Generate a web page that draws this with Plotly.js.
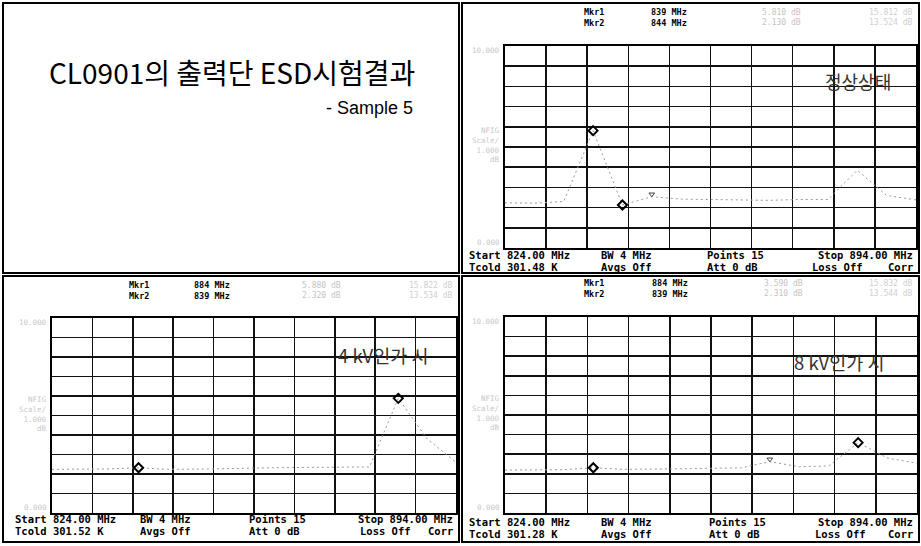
<!DOCTYPE html>
<html>
<head>
<meta charset="utf-8">
<script src="https://cdn.plot.ly/plotly-3.0.1.min.js"></script>
<style>html,body{margin:0;padding:0;background:#fff;}#chart{width:921px;height:546px;}</style>
</head>
<body>
<div id="chart"></div>
<script>
// ---- data (frequency in MHz, noise figure in dB, 1 dB/div) ----
const freqMHz = [824, 829, 834, 839, 844, 849, 854, 859, 864, 869, 874, 879, 884, 889, 894];
const normalNF = [2.24, 2.22, 2.30, 5.81, 2.13, 2.54, 2.42, 2.40, 2.40, 2.36, 2.40, 2.40, 3.85, 2.60, 2.38];
const kv4NF    = [2.24, 2.24, 2.26, 2.32, 2.24, 2.25, 2.26, 2.30, 2.33, 2.34, 2.33, 2.36, 5.88, 3.80, 2.60];
const kv8NF    = [2.19, 2.20, 2.21, 2.31, 2.23, 2.24, 2.25, 2.27, 2.30, 2.62, 2.36, 2.40, 3.59, 2.80, 2.54];
const normalMarkers = [3, 4];   // Mkr1 839 MHz, Mkr2 844 MHz
const kv4Markers = [12, 3];     // Mkr1 884 MHz, Mkr2 839 MHz
const kv8Markers = [12, 3];
const normalExtra = [5];
const kv8Extra = [9];
const titleText = "CL0901의 출력단 ESD시험결과";
const subtitleText = "- Sample 5";
const panelLabels = ["정상상태", "4 kV인가 시", "8 kV인가 시"];
const tcold = ["301.48 K", "301.52 K", "301.28 K"];
const yTop = "10.000", yBottom = "0.000";
const scaleLabels = ["NFIG", "Scale/", "1.000", "dB"];

// ---- helpers ----
const W = 921, H = 546;
const px = x => x / W;
const py = y => 1 - y / H;
const MONO = "DejaVu Sans Mono";
function ann(text, x, y, xanchor, size, color, family, extra) {
  return Object.assign({
    text: text, x: px(x), y: py(y), xref: "paper", yref: "paper",
    showarrow: false, xanchor: xanchor, yanchor: "middle",
    font: { family: family || MONO, size: size, color: color || "#000" }
  }, extra || {});
}

// panels: grid boxes in pixels
const panels = [
  { data: normalNF, mk: normalMarkers, extra: normalExtra, gx0: 505, gx1: 916, gy0: 46, gy1: 248,
    hy: 17, by: 255, mkrX: 582, valX: 649, fX: 760,
    ptX: 705, bwX: 599, lossX: 810, right: 915, left: 467 },
  { data: kv4NF, mk: kv4Markers, extra: [], gx0: 52, gx1: 456, gy0: 318, gy1: 513,
    hy: 290, by: 519, mkrX: 127, valX: 192, fX: 300,
    ptX: 247, bwX: 138, lossX: 358, right: 455, left: 13 },
  { data: kv8NF, mk: kv8Markers, extra: kv8Extra, gx0: 505, gx1: 917, gy0: 317, gy1: 513,
    hy: 288, by: 522, mkrX: 582, valX: 650, fX: 762,
    ptX: 707, bwX: 599, lossX: 813, right: 915, left: 467 }
];

const traces = [];
const layout = {
  width: W, height: H, margin: { l: 0, r: 0, t: 0, b: 0 },
  paper_bgcolor: "#fff", plot_bgcolor: "#fff", showlegend: false,
  annotations: [], shapes: []
};

panels.forEach((p, i) => {
  const n = i === 0 ? "" : String(i + 1);
  const xa = "x" + n, ya = "y" + n;
  const axCommon = {
    showticklabels: false, ticks: "", zeroline: false,
    showgrid: true, gridcolor: "#111", gridwidth: 1.5,
    showline: true, mirror: true, linecolor: "#000", linewidth: 2, fixedrange: true
  };
  layout["xaxis" + n] = Object.assign({}, axCommon, {
    domain: [px(p.gx0), px(p.gx1)], range: [824, 894], tick0: 824, dtick: 7, anchor: ya
  });
  layout["yaxis" + n] = Object.assign({}, axCommon, {
    domain: [py(p.gy1), py(p.gy0)], range: [0, 10], tick0: 0, dtick: 1, anchor: xa
  });
  // dotted trace
  traces.push({
    x: freqMHz, y: p.data, xaxis: xa, yaxis: ya, type: "scatter", mode: "lines",
    line: { color: "#9a9a9a", width: 1, dash: "2px,3px" }, hoverinfo: "skip"
  });
  // markers
  traces.push({
    x: p.mk.map(k => freqMHz[k]), y: p.mk.map(k => p.data[k]), xaxis: xa, yaxis: ya,
    type: "scatter", mode: "markers",
    marker: { symbol: "diamond-open", size: 7, color: "#000", line: { width: 2, color: "#000" } }
  });
  if (p.extra.length) {
    traces.push({
      x: p.extra.map(k => freqMHz[k]), y: p.extra.map(k => p.data[k] + 0.12), xaxis: xa, yaxis: ya,
      type: "scatter", mode: "markers",
      marker: { symbol: "triangle-down-open", size: 5, color: "#444", line: { width: 1, color: "#444" } }
    });
  }
  // header marker text (two lines each)
  const mf = p.mk.map(k => freqMHz[k] + " MHz");
  layout.annotations.push(ann("<b>Mkr1<br>Mkr2</b>", p.mkrX, p.hy, "left", 8.5));
  layout.annotations.push(ann("<b>" + mf[0] + "<br>" + mf[1] + "</b>", p.valX, p.hy, "left", 8.5));
  layout.annotations.push(ann(p.data[p.mk[0]].toFixed(3) + " dB<br>" + p.data[p.mk[1]].toFixed(3) + " dB",
    p.fX, p.hy, "left", 8, "#c4c4c4"));
  layout.annotations.push(ann("15.8" + (i + 1) + "2 dB<br>13.5" + (i + 2) + "4 dB", p.right, p.hy, "right", 8, "#cfcfcf"));
  // faint y scale texts
  layout.annotations.push(ann(yTop, p.gx0 - 3, p.gy0 + 4, "right", 7.5, "#c6c6c6"));
  layout.annotations.push(ann(yBottom, p.gx0 - 3, p.gy1 - 6, "right", 7.5, "#c6c6c6"));
  const midY = p.gy0 + (p.gy1 - p.gy0) * 0.42 + 14;
  layout.annotations.push(ann(scaleLabels.join("<br>"), p.gx0 - 3, midY, "right", 7.5, "#c8c8c8", MONO, { align: "right" }));
  // bottom info rows
  const r1 = p.by, r2 = p.by + 11.5;
  const B = s => "<b>" + s + "</b>";
  layout.annotations.push(ann(B("Start 824.00 MHz"), p.left, r1, "left", 10.5));
  layout.annotations.push(ann(B("BW 4 MHz"), p.bwX, r1, "left", 10.5));
  layout.annotations.push(ann(B("Points " + freqMHz.length), p.ptX, r1, "left", 10.5));
  layout.annotations.push(ann(B("Stop 894.00 MHz"), p.right, r1, "right", 10.5));
  layout.annotations.push(ann(B("Tcold " + tcold[i]), p.left, r2, "left", 10.5));
  layout.annotations.push(ann(B("Avgs Off"), p.bwX, r2, "left", 10.5));
  layout.annotations.push(ann(B("Att 0 dB"), p.ptX, r2, "left", 10.5));
  layout.annotations.push(ann(B("Loss Off"), p.lossX, r2, "left", 10.5));
  layout.annotations.push(ann(B("Corr"), p.right, r2, "right", 10.5));
});

// panel labels
layout.annotations.push(ann(panelLabels[0], 858, 81, "center", 18, "#333", "Noto Sans CJK KR"));
layout.annotations.push(ann(panelLabels[1], 383, 355, "center", 18.5, "#333", "Noto Sans CJK KR"));
layout.annotations.push(ann(panelLabels[2], 839, 362, "center", 18.5, "#333", "Noto Sans CJK KR"));

// title panel
layout.annotations.push(ann(titleText, 232, 72, "center", 28, "#000", "Noto Sans CJK KR"));
layout.annotations.push(ann(subtitleText, 415, 108, "right", 18, "#000", "Liberation Sans"));

// panel frames
[[3, 3, 459, 273], [462, 3, 919, 273], [3, 276, 459, 542], [462, 276, 919, 542]].forEach(r => {
  layout.shapes.push({
    type: "rect", xref: "paper", yref: "paper",
    x0: px(r[0]), x1: px(r[2]), y0: py(r[3]), y1: py(r[1]),
    line: { color: "#000", width: 2 }, fillcolor: "rgba(0,0,0,0)"
  });
});

Plotly.newPlot("chart", traces, layout, { staticPlot: true, displayModeBar: false });
</script>
</body>
</html>
